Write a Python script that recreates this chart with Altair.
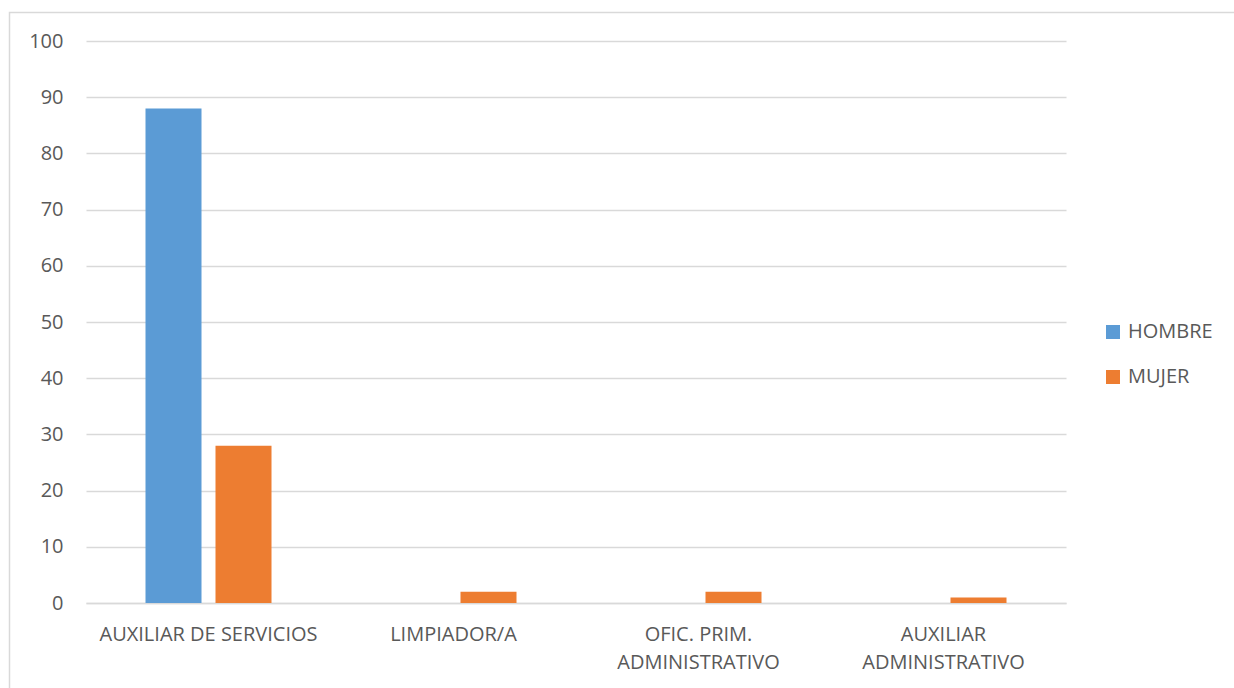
import altair as alt
import pandas as pd

# Job categories (line breaks mark the two-line axis labels)
categories = [
    "AUXILIAR DE SERVICIOS",
    "LIMPIADOR/A",
    "OFIC. PRIM.\nADMINISTRATIVO",
    "AUXILIAR\nADMINISTRATIVO",
]
series = ["HOMBRE", "MUJER"]
hombre = [88, 0, 0, 0]
mujer = [28, 2, 2, 1]
y_ticks = [0, 10, 20, 30, 40, 50, 60, 70, 80, 90, 100]
colors = ["#5B9BD5", "#ED7D31"]

rows = []
for cat, h, m in zip(categories, hombre, mujer):
    rows.append({"puesto": cat, "sexo": "HOMBRE", "valor": h})
    rows.append({"puesto": cat, "sexo": "MUJER", "valor": m})
df = pd.DataFrame(rows)

FONT = "Open Sans"
FS = 20
TEXT = "#595959"
GRID = "#D9D9D9"

bars = alt.Chart(df).mark_bar().encode(
    x=alt.X(
        "puesto:N",
        sort=categories,
        scale=alt.Scale(paddingInner=0, paddingOuter=0),
        axis=alt.Axis(
            title=None,
            labelAngle=0,
            labelExpr="split(datum.label, '\\n')",
            labelFont=FONT,
            labelFontSize=FS,
            labelColor=TEXT,
            labelPadding=21,
            labelLineHeight=28,
            labelLimit=0,
            ticks=False,
            domainColor=GRID,
            domainWidth=1.5,
            grid=False,
        ),
    ),
    xOffset=alt.XOffset(
        "sexo:N",
        sort=series,
        scale=alt.Scale(paddingInner=0.2, paddingOuter=0.85),
    ),
    y=alt.Y(
        "valor:Q",
        scale=alt.Scale(domain=[0, 100], nice=False),
        axis=alt.Axis(
            title=None,
            values=y_ticks,
            labelFont=FONT,
            labelFontSize=FS,
            labelColor=TEXT,
            labelPadding=23,
            ticks=False,
            domain=False,
            gridColor=GRID,
            gridWidth=1.5,
        ),
    ),
    color=alt.Color(
        "sexo:N",
        sort=series,
        scale=alt.Scale(domain=series, range=colors),
        legend=alt.Legend(
            title=None,
            orient="none",
            legendX=1017,
            legendY=281,
            symbolType="square",
            symbolSize=196,
            symbolStrokeWidth=0,
            labelFont=FONT,
            labelFontSize=FS,
            labelColor=TEXT,
            labelOffset=5,
            rowPadding=25,
        ),
    ),
)

# Outer chart frame
frame = alt.Chart(pd.DataFrame({"k": [0]})).mark_rect(
    fill=None, stroke=GRID, strokeWidth=1.5
).encode(
    x=alt.value(-76.5),
    x2=alt.value(1160),
    y=alt.value(-28.5),
    y2=alt.value(120 + 562),
)

chart = (
    alt.layer(frame, bars)
    .properties(
        width=980,
        height=562,
        autosize=alt.AutoSizeParams(type="none"),
        padding={"left": 86, "top": 41, "right": 168, "bottom": 85},
        background="white",
    )
    .configure_view(stroke=None)
)

chart.save("out.html", embed_options={"renderer": "svg", "actions": False})
